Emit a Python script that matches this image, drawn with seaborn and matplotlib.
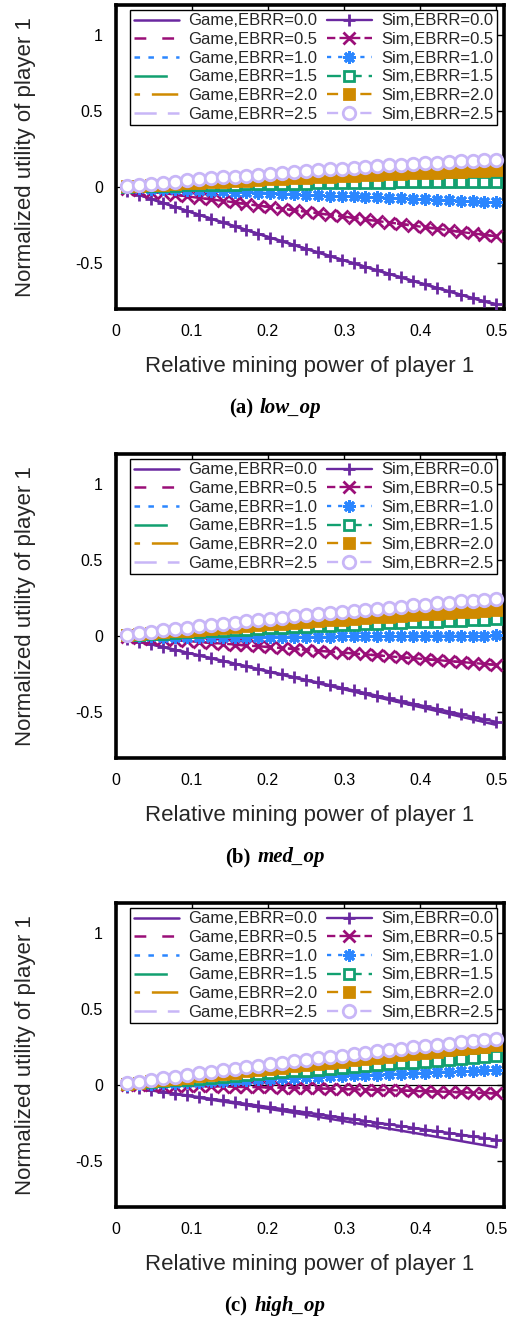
import matplotlib
matplotlib.use("Agg")
import matplotlib.pyplot as plt
import seaborn as sns
from matplotlib.offsetbox import TextArea, HPacker, AnnotationBbox

# ---------------- data ----------------
ebrr_levels = ["0.0", "0.5", "1.0", "1.5", "2.0", "2.5"]
x_sim = [0.0156, 0.0313, 0.0469, 0.0625, 0.0781, 0.0938, 0.1094, 0.125, 0.1406, 0.1563,
         0.1719, 0.1875, 0.2031, 0.2188, 0.2344, 0.25, 0.2656, 0.2813, 0.2969, 0.3125,
         0.3281, 0.3438, 0.3594, 0.375, 0.3906, 0.4063, 0.4219, 0.4375, 0.4531, 0.4688,
         0.4844, 0.5]
x_game = [0.008, 0.05, 0.1, 0.15, 0.2, 0.25, 0.3, 0.35, 0.4, 0.45, 0.5]

# (a) low_op
low_game_00 = [-0.013, -0.084, -0.167, -0.248, -0.328, -0.406, -0.483, -0.558, -0.632, -0.704, -0.775]
low_game_05 = [-0.005, -0.033, -0.065, -0.098, -0.130, -0.163, -0.195, -0.228, -0.260, -0.293, -0.325]
low_game_10 = [-0.002, -0.010, -0.020, -0.030, -0.040, -0.050, -0.060, -0.070, -0.080, -0.090, -0.100]
low_game_15 = [0.001, 0.006, 0.011, 0.015, 0.019, 0.023, 0.026, 0.029, 0.030, 0.032, 0.033]
low_game_20 = [0.002, 0.013, 0.025, 0.037, 0.049, 0.060, 0.071, 0.081, 0.091, 0.101, 0.110]
low_game_25 = [0.004, 0.023, 0.046, 0.067, 0.086, 0.105, 0.122, 0.139, 0.154, 0.167, 0.180]
low_sim_00 = [-0.026, -0.053, -0.079, -0.105, -0.131, -0.157, -0.182, -0.208, -0.233, -0.258,
              -0.283, -0.308, -0.333, -0.357, -0.382, -0.406, -0.430, -0.454, -0.478, -0.502,
              -0.525, -0.549, -0.572, -0.595, -0.618, -0.641, -0.664, -0.686, -0.709, -0.731,
              -0.753, -0.770]
low_sim_05 = [-0.010, -0.020, -0.031, -0.041, -0.050, -0.061, -0.072, -0.081, -0.091, -0.101,
              -0.112, -0.123, -0.132, -0.142, -0.153, -0.163, -0.172, -0.183, -0.194, -0.203,
              -0.213, -0.224, -0.234, -0.243, -0.254, -0.265, -0.274, -0.284, -0.296, -0.305,
              -0.314, -0.325]
low_sim_10 = [-0.003, -0.006, -0.010, -0.012, -0.016, -0.019, -0.023, -0.025, -0.028, -0.032,
              -0.034, -0.037, -0.041, -0.044, -0.047, -0.051, -0.053, -0.056, -0.060, -0.062,
              -0.066, -0.069, -0.071, -0.075, -0.079, -0.081, -0.084, -0.087, -0.091, -0.094,
              -0.097, -0.101]
low_sim_15 = [0.002, 0.004, 0.005, 0.007, 0.009, 0.010, 0.012, 0.013, 0.015, 0.016,
              0.017, 0.019, 0.020, 0.021, 0.022, 0.023, 0.024, 0.025, 0.026, 0.027,
              0.028, 0.028, 0.029, 0.030, 0.030, 0.031, 0.031, 0.031, 0.032, 0.032,
              0.032, 0.033]
low_sim_20 = [0.004, 0.008, 0.012, 0.016, 0.020, 0.024, 0.028, 0.031, 0.035, 0.039,
              0.042, 0.046, 0.050, 0.053, 0.057, 0.060, 0.064, 0.067, 0.070, 0.073,
              0.077, 0.080, 0.083, 0.086, 0.089, 0.092, 0.095, 0.098, 0.101, 0.104,
              0.107, 0.110]
low_sim_25 = [0.007, 0.015, 0.022, 0.029, 0.036, 0.043, 0.050, 0.056, 0.063, 0.069,
              0.075, 0.082, 0.088, 0.094, 0.099, 0.105, 0.111, 0.116, 0.121, 0.127,
              0.132, 0.137, 0.142, 0.146, 0.151, 0.155, 0.160, 0.164, 0.168, 0.172,
              0.176, 0.180]

# (b) med_op
med_game_00 = [-0.009, -0.058, -0.117, -0.175, -0.234, -0.292, -0.351, -0.410, -0.468, -0.527, -0.585]
med_game_05 = [-0.003, -0.018, -0.036, -0.054, -0.072, -0.091, -0.110, -0.130, -0.150, -0.170, -0.190]
med_game_10 = [-0.001, -0.003, -0.004, -0.005, -0.005, -0.004, -0.003, -0.002, 0.000, 0.002, 0.004]
med_game_15 = [0.002, 0.013, 0.025, 0.037, 0.049, 0.060, 0.071, 0.081, 0.091, 0.101, 0.110]
med_game_20 = [0.003, 0.020, 0.039, 0.057, 0.075, 0.093, 0.109, 0.125, 0.141, 0.156, 0.170]
med_game_25 = [0.005, 0.029, 0.058, 0.085, 0.111, 0.136, 0.160, 0.183, 0.205, 0.225, 0.245]
med_sim_00 = [-0.018, -0.037, -0.055, -0.073, -0.091, -0.109, -0.127, -0.145, -0.163, -0.181,
              -0.199, -0.217, -0.234, -0.252, -0.270, -0.288, -0.305, -0.323, -0.340, -0.358,
              -0.375, -0.393, -0.410, -0.428, -0.445, -0.462, -0.479, -0.497, -0.514, -0.531,
              -0.548, -0.565]
med_sim_05 = [-0.005, -0.011, -0.017, -0.022, -0.028, -0.033, -0.039, -0.045, -0.050, -0.056,
              -0.062, -0.068, -0.074, -0.079, -0.085, -0.091, -0.097, -0.103, -0.109, -0.115,
              -0.121, -0.127, -0.134, -0.140, -0.146, -0.152, -0.158, -0.165, -0.171, -0.177,
              -0.184, -0.190]
med_sim_10 = [-0.001, -0.002, -0.003, -0.004, -0.004, -0.005, -0.005, -0.006, -0.005, -0.006,
              -0.006, -0.005, -0.005, -0.006, -0.005, -0.004, -0.004, -0.004, -0.003, -0.003,
              -0.002, -0.002, -0.001, -0.001, 0.000, 0.000, 0.001, 0.002, 0.002, 0.003,
              0.003, 0.004]
med_sim_15 = [0.004, 0.008, 0.012, 0.016, 0.020, 0.024, 0.028, 0.031, 0.035, 0.039,
              0.042, 0.046, 0.050, 0.053, 0.057, 0.060, 0.064, 0.067, 0.070, 0.073,
              0.077, 0.080, 0.083, 0.086, 0.089, 0.092, 0.095, 0.098, 0.101, 0.104,
              0.107, 0.110]
med_sim_20 = [0.006, 0.012, 0.018, 0.025, 0.031, 0.036, 0.042, 0.048, 0.054, 0.060,
              0.065, 0.071, 0.076, 0.082, 0.087, 0.093, 0.098, 0.103, 0.108, 0.113,
              0.118, 0.123, 0.128, 0.133, 0.138, 0.143, 0.147, 0.152, 0.157, 0.161,
              0.166, 0.170]
med_sim_25 = [0.009, 0.018, 0.028, 0.037, 0.046, 0.054, 0.063, 0.072, 0.080, 0.088,
              0.097, 0.105, 0.113, 0.121, 0.129, 0.136, 0.144, 0.151, 0.159, 0.166,
              0.173, 0.180, 0.187, 0.194, 0.201, 0.207, 0.214, 0.220, 0.227, 0.233,
              0.239, 0.245]

# (c) high_op
high_game_00 = [-0.006, -0.038, -0.076, -0.116, -0.156, -0.196, -0.238, -0.280, -0.322, -0.366, -0.410]
high_game_05 = [-0.001, -0.003, -0.007, -0.011, -0.016, -0.021, -0.027, -0.033, -0.040, -0.047, -0.055]
high_game_10 = [0.002, 0.010, 0.020, 0.030, 0.040, 0.050, 0.060, 0.070, 0.080, 0.090, 0.100]
high_game_15 = [0.003, 0.019, 0.038, 0.057, 0.076, 0.095, 0.114, 0.133, 0.152, 0.171, 0.190]
high_game_20 = [0.004, 0.026, 0.052, 0.078, 0.104, 0.130, 0.156, 0.182, 0.208, 0.234, 0.260]
high_game_25 = [0.006, 0.035, 0.070, 0.103, 0.135, 0.166, 0.196, 0.224, 0.253, 0.279, 0.305]
high_sim_00 = [-0.011, -0.023, -0.034, -0.045, -0.056, -0.068, -0.079, -0.090, -0.101, -0.113,
               -0.124, -0.135, -0.146, -0.158, -0.169, -0.180, -0.191, -0.203, -0.214, -0.225,
               -0.236, -0.248, -0.259, -0.270, -0.281, -0.293, -0.304, -0.315, -0.326, -0.338,
               -0.349, -0.360]
high_sim_05 = [-0.001, -0.002, -0.003, -0.004, -0.005, -0.006, -0.008, -0.009, -0.010, -0.012,
               -0.013, -0.015, -0.016, -0.018, -0.020, -0.021, -0.023, -0.025, -0.027, -0.029,
               -0.030, -0.032, -0.034, -0.036, -0.039, -0.041, -0.043, -0.045, -0.048, -0.050,
               -0.052, -0.055]
high_sim_10 = [0.003, 0.006, 0.009, 0.013, 0.016, 0.019, 0.022, 0.025, 0.028, 0.031,
               0.034, 0.038, 0.041, 0.044, 0.047, 0.050, 0.053, 0.056, 0.059, 0.063,
               0.066, 0.069, 0.072, 0.075, 0.078, 0.081, 0.084, 0.088, 0.091, 0.094,
               0.097, 0.100]
high_sim_15 = [0.006, 0.012, 0.018, 0.024, 0.030, 0.036, 0.042, 0.048, 0.053, 0.059,
               0.065, 0.071, 0.077, 0.083, 0.089, 0.095, 0.101, 0.107, 0.113, 0.119,
               0.125, 0.131, 0.137, 0.143, 0.148, 0.154, 0.160, 0.166, 0.172, 0.178,
               0.184, 0.190]
high_sim_20 = [0.008, 0.016, 0.024, 0.033, 0.041, 0.049, 0.057, 0.065, 0.073, 0.081,
               0.089, 0.098, 0.106, 0.114, 0.122, 0.130, 0.138, 0.146, 0.154, 0.163,
               0.171, 0.179, 0.187, 0.195, 0.203, 0.211, 0.219, 0.228, 0.236, 0.244,
               0.252, 0.260]
high_sim_25 = [0.011, 0.022, 0.033, 0.044, 0.055, 0.066, 0.076, 0.087, 0.097, 0.107,
               0.117, 0.127, 0.137, 0.147, 0.157, 0.166, 0.176, 0.185, 0.194, 0.204,
               0.213, 0.222, 0.230, 0.239, 0.248, 0.256, 0.265, 0.273, 0.281, 0.289,
               0.297, 0.305]

panel_names = ["(a)", "(b)", "(c)"]
panel_tags = ["low_op", "med_op", "high_op"]
game_sets = [
    [low_game_00, low_game_05, low_game_10, low_game_15, low_game_20, low_game_25],
    [med_game_00, med_game_05, med_game_10, med_game_15, med_game_20, med_game_25],
    [high_game_00, high_game_05, high_game_10, high_game_15, high_game_20, high_game_25],
]
sim_sets = [
    [low_sim_00, low_sim_05, low_sim_10, low_sim_15, low_sim_20, low_sim_25],
    [med_sim_00, med_sim_05, med_sim_10, med_sim_15, med_sim_20, med_sim_25],
    [high_sim_00, high_sim_05, high_sim_10, high_sim_15, high_sim_20, high_sim_25],
]

# ---------------- style ----------------
sns.set_style("white")
plt.rcParams["font.family"] = ["Liberation Sans", "DejaVu Sans"]
plt.rcParams["axes.unicode_minus"] = False
plt.rcParams["lines.scale_dashes"] = False

colors = ["#6a28a0", "#9a0e78", "#2b86ff", "#12a070", "#cf8a00", "#c8b6f7"]
game_ls = ["-", (0, (8.5, 11.5)), (0, (4, 6)), (0, (24, 12)), (0, (4, 8.5, 19, 8.5)), (0, (16, 8))]
sim_ls = ["-", (0, (6, 3)), (0, (3, 5)), (0, (10, 5)), (0, (8, 4)), (0, (8, 4))]
markers = ["+", "x", (8, 2, 0), "s", "s", "o"]
msizes = [9, 8.5, 9, 7.5, 7.5, 9]
mfaces = ["none", "none", "none", "white", None, "white"]

fig = plt.figure(figsize=(5.13, 13.21), dpi=100)
W, H = 513.0, 1321.0
ax_left, ax_right = 115.5, 504.0
ax_tops = [4.6, 453.6, 902.6]
ax_h = 304.0
cap_y = [408, 857, 1306]

for p in range(3):
    top = ax_tops[p]
    ax = fig.add_axes([ax_left / W, 1 - (top + ax_h) / H, (ax_right - ax_left) / W, ax_h / H])
    ax.axhline(0, color="black", lw=0.9, zorder=1)
    for i, lev in enumerate(ebrr_levels):
        sns.lineplot(x=x_game, y=game_sets[p][i], ax=ax, color=colors[i], lw=1.8,
                     linestyle=game_ls[i], label=f"Game,EBRR={lev}", zorder=2,
                     errorbar=None, sort=False)
    for i, lev in enumerate(ebrr_levels):
        kw = dict(marker=markers[i], markersize=msizes[i], markeredgewidth=2.0,
                  markeredgecolor=colors[i])
        kw["markerfacecolor"] = mfaces[i] if mfaces[i] is not None else colors[i]
        sns.lineplot(x=x_sim, y=sim_sets[p][i], ax=ax, color=colors[i], lw=1.7,
                     linestyle=sim_ls[i], label=f"Sim,EBRR={lev}", zorder=3,
                     errorbar=None, sort=False, **kw)

    ax.set_xlim(0, 0.51)
    ax.set_ylim(-0.8, 1.2)
    ax.set_xticks([0, 0.1, 0.2, 0.3, 0.4, 0.5])
    ax.set_xticklabels(["0", "0.1", "0.2", "0.3", "0.4", "0.5"])
    ax.set_yticks([-0.5, 0, 0.5, 1])
    ax.set_yticklabels(["-0.5", "0", "0.5", "1"])
    ax.tick_params(axis="both", direction="in", length=5, width=1.0, labelsize=11.5,
                   top=True, right=True, colors="black")
    ax.tick_params(axis="x", pad=11)
    ax.tick_params(axis="y", pad=9)
    for s in ax.spines.values():
        s.set_linewidth(2.6)
        s.set_color("black")
        s.set_visible(True)
    ax.set_xlabel("Relative mining power of player 1", fontsize=16)
    ax.set_ylabel("Normalized utility of player 1", fontsize=16)
    ax.xaxis.set_label_coords(0.5, -0.155)
    ax.yaxis.set_label_coords(-0.205, 0.5)

    handles, labels = ax.get_legend_handles_labels()
    leg = ax.legend(handles, labels, ncol=2, loc="upper right",
                    bbox_to_anchor=(0.981, 0.982), borderaxespad=0,
                    fontsize=12, handlelength=2.7, handletextpad=0.55,
                    columnspacing=0.6, labelspacing=0.22, borderpad=0.2,
                    fancybox=False, framealpha=1, edgecolor="black", numpoints=1)
    leg.get_frame().set_linewidth(1.0)

    # caption
    t1 = TextArea(panel_names[p], textprops=dict(family="Liberation Serif", fontweight="bold",
                                                 fontsize=15, color="black"))
    t2 = TextArea(panel_tags[p], textprops=dict(family="Liberation Serif", fontweight="bold",
                                                style="italic", fontsize=15, color="black"))
    box = HPacker(children=[t1, t2], sep=5, align="baseline", pad=0)
    ab = AnnotationBbox(box, (275 / W, 1 - cap_y[p] / H), xycoords="figure fraction",
                        frameon=False, box_alignment=(0.5, 0.5))
    fig.add_artist(ab)

fig.savefig("out.png", dpi=100)
